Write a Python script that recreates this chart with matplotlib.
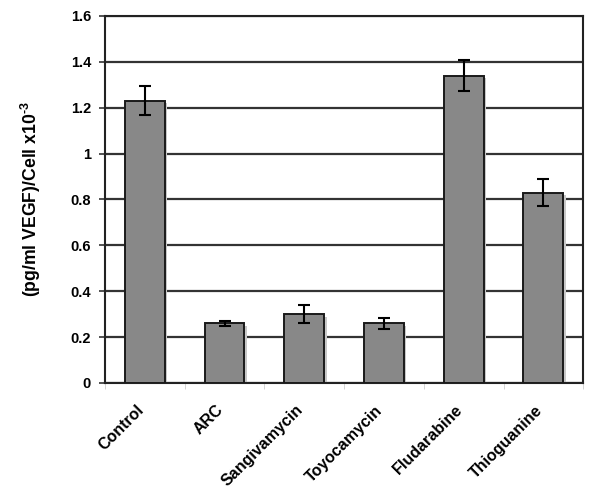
import matplotlib.pyplot as plt
import matplotlib.transforms as mtransforms
import numpy as np

categorias = ['Control', 'ARC', 'Sangivamycin', 'Toyocamycin', 'Fludarabine', 'Thioguanine']
valores = [1.23, 0.26, 0.30, 0.26, 1.34, 0.83]
erros = [0.064, 0.012, 0.038, 0.023, 0.066, 0.06]

plt.rcParams['font.family'] = ['Liberation Sans', 'DejaVu Sans']
plt.rcParams['font.weight'] = 'bold'
plt.rcParams['mathtext.fontset'] = 'custom'
plt.rcParams['mathtext.rm'] = 'Liberation Sans:bold'
plt.rcParams['mathtext.bf'] = 'Liberation Sans:bold'

fig = plt.figure(figsize=(6, 4.98), dpi=100)
ax = fig.add_axes([0.175, 0.231, 0.797, 0.737])

x = np.arange(len(categorias))

# sombra das barras
sombra = mtransforms.offset_copy(ax.transData, fig=fig, x=2.5, y=-2.5, units='dots')
ax.bar(x, valores, width=0.5, color='#c8c8c8', edgecolor='none', transform=sombra, zorder=2)
ax.bar(x, valores, width=0.5, color='#888888', edgecolor='#1a1a1a', linewidth=1.4, zorder=3)
ax.errorbar(x, valores, yerr=erros, fmt='none', ecolor='black', elinewidth=1.5,
            capsize=4, capthick=1.5, zorder=4)

ax.set_xlim(-0.5, len(categorias) - 0.5)
ax.set_ylim(0, 1.6)
ax.set_yticks(np.arange(0, 1.61, 0.2))
ax.set_yticklabels(['0', '0.2', '0.4', '0.6', '0.8', '1', '1.2', '1.4', '1.6'], fontsize=10.5, fontweight='bold')
ax.yaxis.grid(True, color='#333333', linewidth=1.6, zorder=1)
ax.set_axisbelow(True)
ax.tick_params(axis='y', length=4, width=1.2, color='#333333', pad=6)

ax.set_xticks(x)
ax.set_xticklabels(categorias, rotation=45, ha='right', va='top', rotation_mode='anchor',
                   fontsize=11.5, fontweight='bold')
ax.tick_params(axis='x', length=0, pad=14)
desloc = mtransforms.ScaledTranslation(-9 / 100, 0, fig.dpi_scale_trans)
for rot in ax.get_xticklabels():
    rot.set_transform(rot.get_transform() + desloc)
ax.set_xticks(np.arange(-0.5, len(categorias), 1), minor=True)
ax.tick_params(axis='x', which='minor', length=4, color='#cccccc')

for s in ax.spines.values():
    s.set_linewidth(1.5)
    s.set_color('#222222')

ax.set_ylabel('(pg/ml VEGF)/Cell x10$^{\\text{-3}}$', fontsize=12.7, fontweight='bold', labelpad=20)

plt.savefig('out.png', dpi=100)
